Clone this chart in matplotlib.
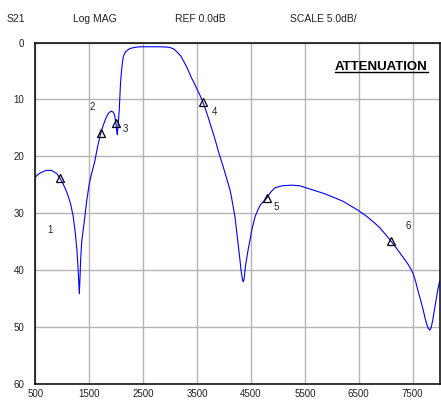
import matplotlib
matplotlib.use("Agg")
import matplotlib.pyplot as plt
from matplotlib.lines import Line2D

plt.rcParams['font.family'] = ['Liberation Sans', 'DejaVu Sans']

# trace (MHz, dB attenuation)
freq = [500, 550, 600, 700, 800, 900, 956, 1000, 1050, 1100, 1150, 1200, 1240, 1270,
        1290, 1305, 1315, 1325, 1340, 1360, 1400, 1450, 1500, 1550, 1600, 1650,
        1711, 1750, 1800, 1850, 1900, 1940, 1970, 1995, 2010, 2020, 2035, 2055,
        2065, 2080, 2100, 2115, 2131, 2160, 2200, 2255, 2350, 2450, 2600, 2800,
        2936, 3000, 3060, 3121, 3160, 3200, 3250, 3307, 3350, 3400, 3450, 3493,
        3550, 3604, 3650, 3700, 3750, 3800, 3850, 3900, 3950, 3986, 4020, 4050,
        4080, 4110, 4140, 4160, 4185, 4203, 4230, 4250, 4275, 4296, 4315, 4330,
        4345, 4357, 4370, 4385, 4400, 4420, 4450, 4481, 4520, 4574, 4630, 4680,
        4740, 4791, 4860, 4938, 5000, 5087, 5250, 5400, 5600, 5866, 6200, 6484,
        6650, 6800, 6900, 7000, 7103, 7200, 7300, 7400, 7460, 7511, 7560, 7600, 7650,
        7697, 7730, 7760, 7790, 7821, 7845, 7870, 7900, 7930, 7965, 8000]
atten = [23.7, 23.2, 22.9, 22.5, 22.5, 23.1, 23.9, 24.6, 25.6, 26.8, 28.3, 30.5, 33.5, 36.5,
         39.5, 42.5, 44.2, 42.0, 38.0, 35.0, 32.0, 28.0, 24.8, 22.8, 21.0, 18.5,
         16.0, 14.8, 13.5, 12.5, 12.1, 12.2, 12.8, 14.2, 15.6, 16.2, 14.5, 12.0,
         10.0, 7.0, 4.8, 3.5, 2.5, 1.8, 1.4, 1.05, 0.85, 0.75, 0.75, 0.75,
         0.8, 0.9, 1.1, 1.6, 2.0, 2.4, 3.3, 4.3, 5.2, 6.3, 7.2, 8.1,
         9.2, 10.4, 11.6, 13.0, 14.5, 16.0, 17.6, 19.3, 20.8, 21.9, 23.0, 24.0,
         24.9, 25.9, 27.3, 28.4, 29.7, 30.7, 32.8, 34.5, 36.5, 38.3, 40.0, 41.0,
         41.8, 42.1, 41.7, 40.5, 39.2, 38.0, 36.3, 34.8, 32.8, 30.7, 29.4, 28.5,
         27.9, 27.4, 26.4, 25.6, 25.4, 25.2, 25.1, 25.2, 25.8, 26.6, 27.9, 29.5,
         30.6, 31.8, 32.7, 33.8, 35.0, 36.2, 37.5, 38.8, 39.7, 40.7, 42.2, 43.7, 45.4,
         47.1, 48.5, 49.5, 50.3, 50.6, 50.1, 49.0, 47.3, 45.5, 43.6, 42.0]

# markers
mk_freq = [956, 1711, 1995, 3604, 4791, 7103]
mk_atten = [23.85, 16.0, 14.2, 10.4, 27.4, 35.0]
mk_names = ['1', '2', '3', '4', '5', '6']
lbl_freq = [771, 1563, 2175, 3819, 4964, 7418]
lbl_atten = [33.0, 11.4, 15.3, 12.2, 28.9, 32.3]

xticks = [500, 1500, 2500, 3500, 4500, 5500, 6500, 7500]
yticks = [0, 10, 20, 30, 40, 50, 60]

fig = plt.figure(figsize=(4.41, 4.04), dpi=100)
ax = fig.add_axes([0.0803, 0.0507, 0.9165, 0.8441])

ax.plot(freq, atten, color='#0000ff', lw=0.8)
ax.plot(mk_freq, mk_atten, ls='none', marker='^', ms=5.5, mfc='none',
        mec='black', mew=0.9)
for fx, ay, s in zip(lbl_freq, lbl_atten, mk_names):
    ax.text(fx, ay, s, fontsize=7, color='#222222', ha='center', va='center')

ax.set_xlim(500, 8000)
ax.set_ylim(60, 0)
ax.set_xticks(xticks)
ax.set_yticks(yticks)
ax.grid(True, color='#b4b4b4', lw=1.0)
ax.set_axisbelow(True)
ax.tick_params(length=0, labelsize=7, colors='#222222')
ax.tick_params(axis='y', pad=8)
ax.tick_params(axis='x', pad=4)
for sp in ax.spines.values():
    sp.set_color('black')
    sp.set_linewidth(1.1)

t = ax.text(0.971, 0.928, 'ATTENUATION', transform=ax.transAxes, ha='right',
            va='center', fontsize=9.5, fontweight='bold')
fig.canvas.draw()
bb = t.get_window_extent().transformed(fig.transFigure.inverted())
fig.add_artist(Line2D([bb.x0, bb.x1], [bb.y0 + 0.002, bb.y0 + 0.002],
                      transform=fig.transFigure, color='black', lw=1.0))

for x, s in [(7, 'S21'), (73, 'Log MAG'), (175, 'REF 0.0dB'), (290, 'SCALE 5.0dB/')]:
    fig.text(x / 441, 1 - 19 / 404, s, fontsize=7.5, color='#222222', va='center')

fig.savefig('out.png', dpi=100)
